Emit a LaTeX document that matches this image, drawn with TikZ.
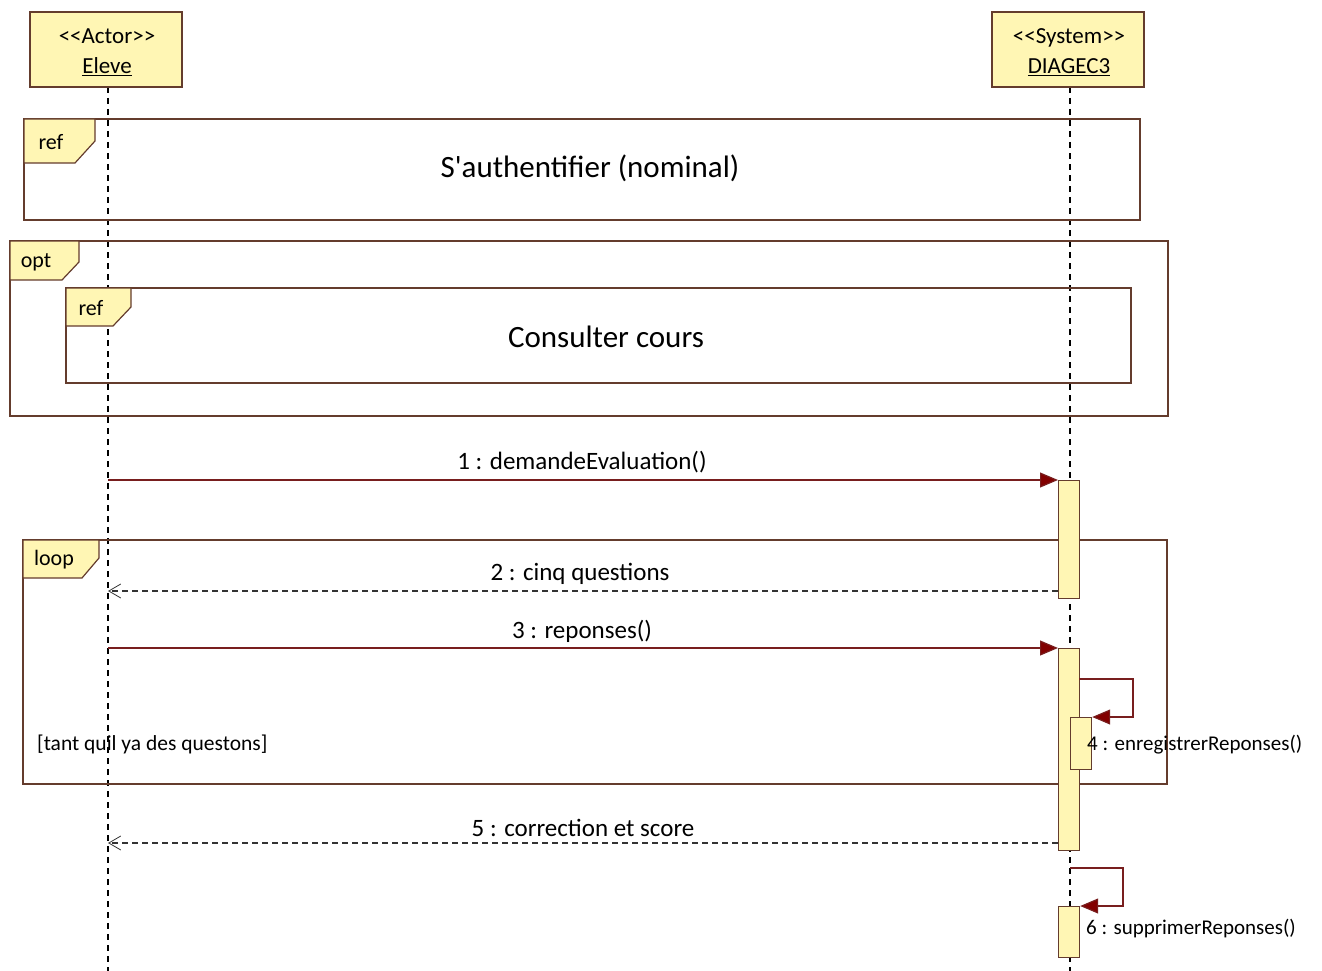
\documentclass[tikz,border=0pt]{standalone}
\usepackage{fontspec}
\setmainfont{Carlito}
\usetikzlibrary{arrows.meta}
\definecolor{boxfill}{RGB}{255,246,180}
\definecolor{edgec}{RGB}{100,60,45}
\definecolor{msgc}{RGB}{120,30,30}
\definecolor{headc}{RGB}{130,0,0}
\tikzset{
  lbox/.style={draw=edgec, fill=boxfill, line width=1.2pt},
  frameline/.style={draw=edgec, line width=1.2pt},
  tagshape/.style={draw=edgec, fill=boxfill, line width=1.2pt},
  lifeline/.style={draw=black, line width=1.2pt, dash pattern=on 6pt off 5pt},
  callmsg/.style={draw=msgc, line width=1.2pt, -{Triangle[length=18pt,width=15pt,fill=headc]}},
  retmsg/.style={draw=black!80, line width=1.1pt, dash pattern=on 6pt off 4pt, -{Straight Barb[length=12pt,width=14pt,line width=0.8pt]}},
  msglabel/.style={font=\fontsize{25}{27}\selectfont, inner sep=0pt},
  selflabel/.style={font=\fontsize{21}{23}\selectfont, inner sep=0pt, anchor=west},
  taglabel/.style={font=\fontsize{22}{24}\selectfont, inner sep=0pt},
  titlelabel/.style={font=\fontsize{31}{34}\selectfont, inner sep=0pt},
  actlabel/.style={font=\fontsize{23}{30}\selectfont, align=center, inner sep=0pt},
}
\begin{document}
\begin{tikzpicture}[x=1pt,y=-1pt]
\useasboundingbox (0,0) rectangle (1322,971);
% lifelines
\coordinate (eTop) at (108,87);
\coordinate (eBot) at (108,971);
\coordinate (sTop) at (1070,87);
\coordinate (sBot) at (1070,971);
\draw[lifeline] (eTop) -- (eBot);
\draw[lifeline] (sTop) -- (sBot);
% actor boxes
\draw[lbox] (30,12) rectangle (182,87);
\node[actlabel] (eleve) at (107,52) {{<}{<}Actor{>}{>}\\\underline{Eleve}};
\draw[lbox] (992,12) rectangle (1144,87);
\node[actlabel] (diagec) at (1069,52) {{<}{<}System{>}{>}\\\underline{DIAGEC3}};
% ref frame 1
\draw[frameline] (24,119) rectangle (1140,220);
\draw[tagshape] (24,119) -- (95,119) -- (95,141) -- (75,163) -- (24,163) -- cycle;
\node[taglabel] (ref1tag) at (51,142) {ref};
\node[titlelabel] (ref1title) at (590,168) {S\textquotesingle authentifier (nominal)};
% opt frame
\draw[frameline] (10,241) rectangle (1168,416);
\draw[tagshape] (10,241) -- (79,241) -- (79,262) -- (62,280) -- (10,280) -- cycle;
\node[taglabel] (opttag) at (36,262) {opt};
% inner ref
\draw[frameline] (66,288) rectangle (1131,383);
\draw[tagshape] (66,288) -- (131,288) -- (131,307) -- (113,326) -- (66,326) -- cycle;
\node[taglabel] (ref2tag) at (91,308) {ref};
\node[titlelabel] (ref2title) at (606,337) {Consulter cours};
% loop frame
\draw[frameline] (23,540) rectangle (1167,784);
\draw[tagshape] (23,540) -- (99,540) -- (99,558) -- (82,578) -- (23,578) -- cycle;
\node[taglabel] (looptag) at (54,560) {loop};
\node[taglabel, anchor=west, font=\fontsize{21.5}{23}\selectfont] (guard) at (37,744) {[tant quil ya des questons]};
% activations
\node[lbox, minimum width=21pt, minimum height=118pt, inner sep=0pt, anchor=north west] (act1) at (1058,480) {};
\node[lbox, minimum width=21pt, minimum height=202pt, inner sep=0pt, anchor=north west] (act2) at (1058,648) {};
% message 1
\coordinate (m1s) at (108,480);
\draw[callmsg] (m1s) -- (act1.north west);
\node[msglabel] (m1l) at (582,462) {1 : demandeEvaluation()};
% message 2
\coordinate (m2e) at (108,591);
\draw[retmsg] (act1.west |- 0,591) -- (m2e);
\node[msglabel] (m2l) at (580,574) {2 : cinq questions};
% message 3
\coordinate (m3s) at (108,648);
\draw[callmsg] (m3s) -- (act2.north west);
\node[msglabel] (m3l) at (582,631) {3 : reponses()};
% nested activation + self message 4
\node[lbox, minimum width=21pt, minimum height=52pt, inner sep=0pt, anchor=north west] (act3) at (1070,717) {};
\coordinate (m4a) at (1079,679);
\coordinate (m4b) at (1133,679);
\coordinate (m4c) at (1133,717);
\draw[callmsg] (m4a) -- (m4b) -- (m4c) -- (act3.north east);
\node[selflabel] (m4l) at (1087,745) {4 : enregistrerReponses()};
% message 5
\coordinate (m5e) at (108,843);
\draw[retmsg] (act2.west |- 0,843) -- (m5e);
\node[msglabel] (m5l) at (583,828) {5 : correction et score};
% self message 6
\node[lbox, minimum width=21pt, minimum height=51pt, inner sep=0pt, anchor=north west] (act4) at (1058,906) {};
\coordinate (m6a) at (1070,868);
\coordinate (m6b) at (1123,868);
\coordinate (m6c) at (1123,906);
\draw[callmsg] (m6a) -- (m6b) -- (m6c) -- (act4.north east);
\node[selflabel] (m6l) at (1086,929) {6 : supprimerReponses()};
\end{tikzpicture}
\end{document}
